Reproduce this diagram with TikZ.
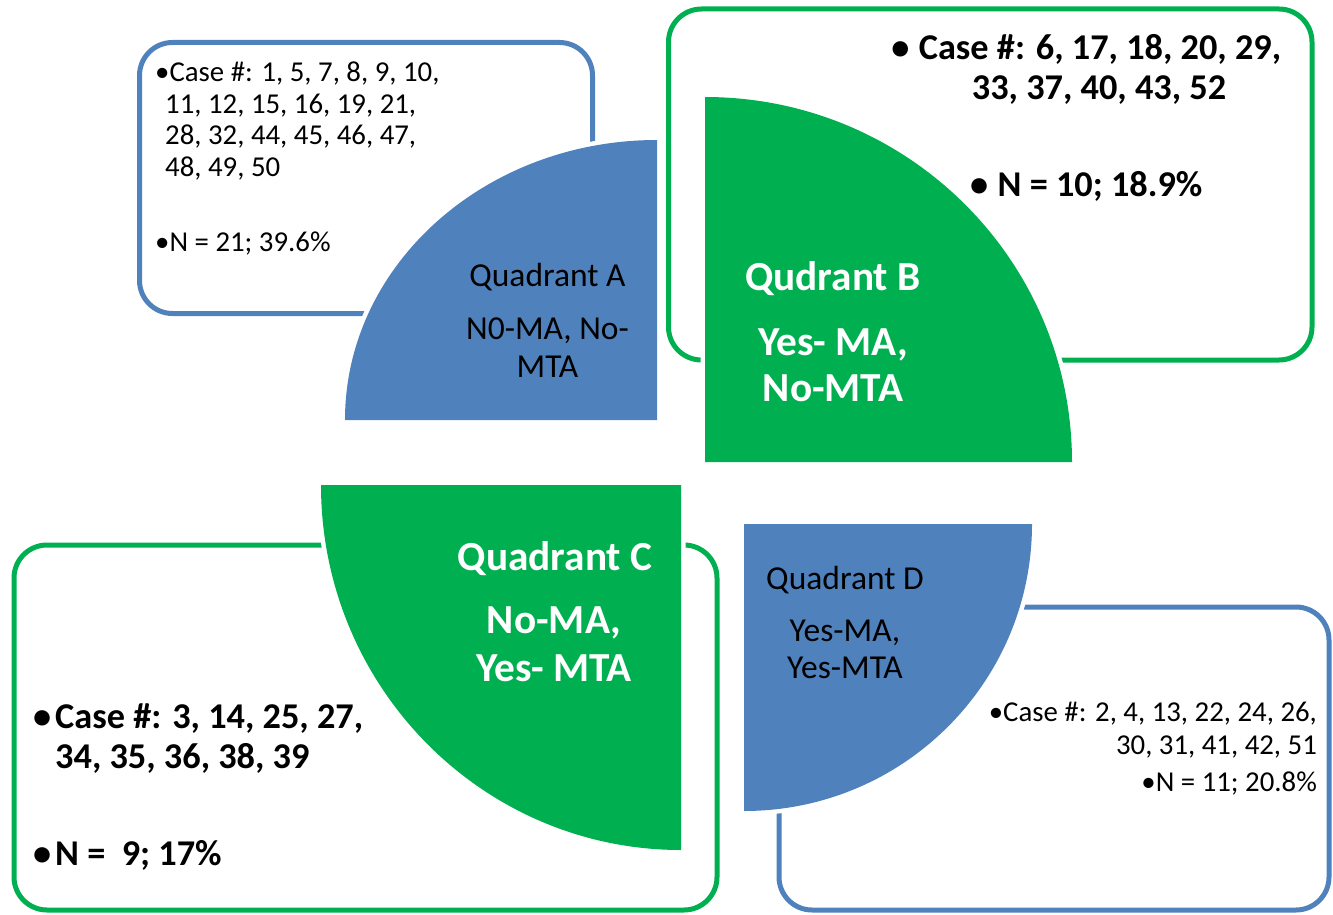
\documentclass[tikz,border=0pt]{standalone}
\usepackage{fontspec}
\setmainfont{Carlito}
\definecolor{qblue}{RGB}{79,129,189}
\definecolor{qgreen}{RGB}{0,176,80}
\tikzset{
  boxline/.style={line width=5pt, rounded corners=33pt},
  halo/.style={draw=white, line width=9pt, line join=round},
  smalltxt/.style={inner sep=0pt, font=\fontsize{28.8}{32}\selectfont},
  bigtxt/.style={inner sep=0pt, font=\fontsize{36.3}{40}\selectfont\bfseries},
  qlabel/.style={inner sep=0pt, anchor=base, font=\fontsize{33.5}{36}\selectfont},
  qlabelw/.style={inner sep=0pt, anchor=base, text=white, font=\fontsize{41.3}{44}\selectfont\bfseries},
}
\begin{document}
\begin{tikzpicture}[x=1pt,y=1pt]
\useasboundingbox (0,0) rectangle (1333,-915);
% boxes
\draw[boxline, qblue]  (139.5,-42.5) rectangle (592.5,-313.5);
\draw[boxline, qgreen] (668.5,-9) rectangle (1312,-360);
\draw[boxline, qgreen] (14,-545) rectangle (717,-910);
\draw[boxline, qblue]  (779,-607) rectangle (1329,-910);
% quadrant A
\path[halo] (657,-420) -- (345,-420) arc[start angle=180, end angle=90, x radius=312, y radius=280] -- cycle;
\fill[qblue] (657,-420) -- (345,-420) arc[start angle=180, end angle=90, x radius=312, y radius=280] -- cycle;
% quadrant B
\path[halo] (705,-462) -- (705,-97) arc[start angle=90, end angle=0, x radius=367, y radius=365] -- cycle;
\fill[qgreen] (705,-462) -- (705,-97) arc[start angle=90, end angle=0, x radius=367, y radius=365] -- cycle;
% quadrant C
\path[halo] (681,-485) -- (321,-485) arc[start angle=180, end angle=270, x radius=360, y radius=365] -- cycle;
\fill[qgreen] (681,-485) -- (321,-485) arc[start angle=180, end angle=270, x radius=360, y radius=365] -- cycle;
% quadrant D
\path[halo] (744,-524) -- (1032,-524) arc[start angle=0, end angle=-90, x radius=288, y radius=287] -- cycle;
\fill[qblue] (744,-524) -- (1032,-524) arc[start angle=0, end angle=-90, x radius=288, y radius=287] -- cycle;

% Box A text
\node[smalltxt, anchor=base west] (a1) at (155,-82) {•Case \#: 1, 5, 7, 8, 9, 10,};
\node[smalltxt, anchor=base west] (a2) at (165,-113.5) {11, 12, 15, 16, 19, 21,};
\node[smalltxt, anchor=base west] (a3) at (165,-145) {28, 32, 44, 45, 46, 47,};
\node[smalltxt, anchor=base west] (a4) at (165,-176.5) {48, 49, 50};
\node[smalltxt, anchor=base west] (a5) at (155,-251.7) {•N = 21; 39.6\%};
% Quadrant A label
\node[qlabel] (qa1) at (547.5,-286) {Quadrant A};
\node[qlabel] (qa2) at (547.5,-339.5) {N0-MA, No-};
\node[qlabel] (qa3) at (547.5,-377.5) {MTA};

% Box B text
\node[bigtxt, anchor=base] (b1) at (1100,-60) {Case \#: 6, 17, 18, 20, 29,};
\node[bigtxt, anchor=base east] (b1d) at ([xshift=-9pt]b1.base west) {•};
\node[bigtxt, anchor=base] (b2) at (1099,-100) {33, 37, 40, 43, 52};
\node[bigtxt, anchor=base] (b3) at (1100,-196.7) {N = 10; 18.9\%};
\node[bigtxt, anchor=base east] (b3d) at ([xshift=-9pt]b3.base west) {•};
% Quadrant B label
\node[qlabelw] (qb1) at (833,-290) {Qudrant B};
\node[qlabelw] (qb2) at (833,-355) {Yes- MA,};
\node[qlabelw] (qb3) at (833,-401.7) {No-MTA};

% Quadrant C label
\node[qlabelw] (qc1) at (555,-570) {Quadrant C};
\node[qlabelw] (qc2) at (554,-633.3) {No-MA,};
\node[qlabelw] (qc3) at (554,-681.7) {Yes- MTA};
% Box C text
\node[bigtxt, anchor=base west] (c1d) at (33,-728.3) {•};
\node[bigtxt, anchor=base west] (c1) at (55,-728.3) {Case \#: 3, 14, 25, 27,};
\node[bigtxt, anchor=base west] (c2) at (55,-768.3) {34, 35, 36, 38, 39};
\node[bigtxt, anchor=base west] (c3d) at (33,-865) {•};
\node[bigtxt, anchor=base west] (c3) at (55,-865) {N = \ 9; 17\%};

% Quadrant D label
\node[qlabel] (qd1) at (845,-589) {Quadrant D};
\node[qlabel] (qd2) at (845,-641.7) {Yes-MA,};
\node[qlabel] (qd3) at (845,-678.3) {Yes-MTA};
% Box D text
\node[smalltxt, anchor=base east] (d1) at (1317,-721.7) {•Case \#: 2, 4, 13, 22, 24, 26,};
\node[smalltxt, anchor=base east] (d2) at (1317,-754) {30, 31, 41, 42, 51};
\node[smalltxt, anchor=base east] (d3) at (1317,-791.7) {•N = 11; 20.8\%};
\end{tikzpicture}
\end{document}
